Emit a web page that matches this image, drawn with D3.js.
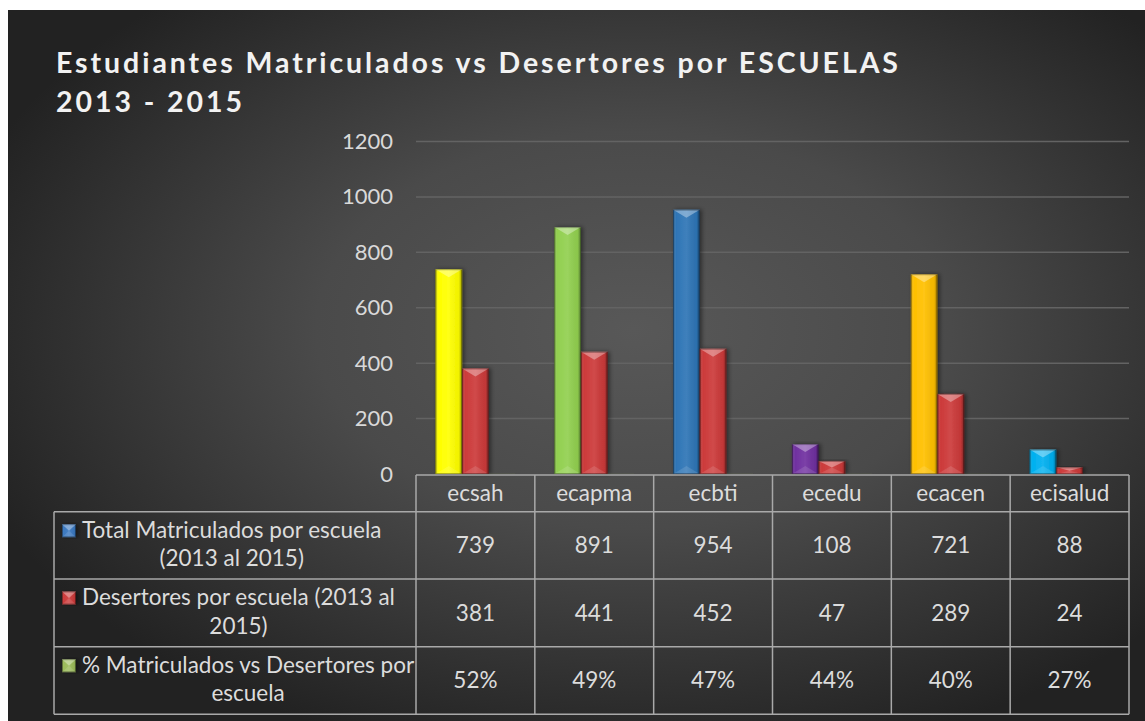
<!DOCTYPE html>
<html>
<head>
<meta charset="utf-8">
<script src="https://cdn.jsdelivr.net/npm/d3@7"></script>
<style>
  body { margin: 0; background: #ffffff; }
  svg { display: block; }
  text { font-family: Lato, "Open Sans", sans-serif; }
</style>
</head>
<body>
<svg id="chart"></svg>
<script>
// data
var escuelas = ["ecsah", "ecapma", "ecbti", "ecedu", "ecacen", "ecisalud"];
var matriculados = [739, 891, 954, 108, 721, 88];
var desertores = [381, 441, 452, 47, 289, 24];
var porcentaje = [0.52, 0.49, 0.47, 0.44, 0.40, 0.27];
var porcentajeLabels = ["52%", "49%", "47%", "44%", "40%", "27%"];
var serieLineas = [
  ["Total Matriculados por escuela", "(2013 al 2015)"],
  ["Desertores por escuela (2013 al", "2015)"],
  ["% Matriculados vs Desertores por", "escuela"]
];
var yTicks = [0, 200, 400, 600, 800, 1000, 1200];
var titulo = ["Estudiantes Matriculados vs Desertores por ESCUELAS", "2013 - 2015"];

// colours (series 1 varies by point)
var puntoColores = ["#ffff00", "#92d050", "#2e75b6", "#7030a0", "#ffc000", "#00b0f0"];
var serieColores = ["#3a78c0", "#cc3a3a", "#9bbb59"];

var W = 1145, H = 721;
var plot = {left: 416, right: 1129, top: 141.5, bottom: 474};
var table = {left: 54, rows: [511.7, 579, 646.7, 714.3], headTop: 475};

var svg = d3.select("#chart").attr("width", W).attr("height", H);
var defs = svg.append("defs");

// background gradient
var bg = defs.append("radialGradient").attr("id", "bg")
  .attr("cx", "55%").attr("cy", "45%").attr("r", "62%");
bg.append("stop").attr("offset", "0%").attr("stop-color", "#585858");
bg.append("stop").attr("offset", "45%").attr("stop-color", "#4a4a4a");
bg.append("stop").attr("offset", "100%").attr("stop-color", "#222222");

// horizontal shine for bars
var shine = defs.append("linearGradient").attr("id", "shine")
  .attr("x1", "0%").attr("x2", "100%").attr("y1", "0%").attr("y2", "0%");
shine.append("stop").attr("offset", "0%").attr("stop-color", "#000").attr("stop-opacity", 0.25);
shine.append("stop").attr("offset", "12%").attr("stop-color", "#fff").attr("stop-opacity", 0.0);
shine.append("stop").attr("offset", "50%").attr("stop-color", "#fff").attr("stop-opacity", 0.08);
shine.append("stop").attr("offset", "88%").attr("stop-color", "#000").attr("stop-opacity", 0.05);
shine.append("stop").attr("offset", "100%").attr("stop-color", "#000").attr("stop-opacity", 0.4);

var shadow = defs.append("filter").attr("id", "shadow")
  .attr("x", "-30%").attr("y", "-10%").attr("width", "160%").attr("height", "120%");
shadow.append("feDropShadow").attr("dx", 2).attr("dy", 0).attr("stdDeviation", 2)
  .attr("flood-color", "#000").attr("flood-opacity", 0.45);

svg.append("rect").attr("x", 8).attr("y", 10).attr("width", W - 8).attr("height", H - 10)
  .attr("fill", "url(#bg)");

// title
var tg = svg.append("g").attr("fill", "#f2f2f2").style("font-weight", "bold").style("font-size", "28.5px");
var t1 = tg.append("text").attr("x", 56).attr("y", 73.3).text(titulo[0]);
var natural = t1.node().getComputedTextLength();
var spacing = (842 - natural) / (titulo[0].length - 1);
t1.style("letter-spacing", spacing + "px");
tg.append("text").attr("x", 56).attr("y", 111.7).style("letter-spacing", spacing + "px").text(titulo[1]);

// scales
var x0 = d3.scaleBand().domain(escuelas).range([plot.left, plot.right]).paddingInner(0).paddingOuter(0);
var series = ["mat", "des", "pct"];
var x1 = d3.scaleBand().domain(series).range([0, x0.bandwidth()]).paddingInner(0).paddingOuter(0.73);
var y = d3.scaleLinear().domain([0, 1200]).range([plot.bottom, plot.top]);

// gridlines
svg.append("g").selectAll("line").data(yTicks.filter(function(d) { return d > 0; }))
  .enter().append("line")
  .attr("x1", plot.left).attr("x2", plot.right)
  .attr("y1", function(d) { return y(d); }).attr("y2", function(d) { return y(d); })
  .attr("stroke", "#636363").attr("stroke-width", 1.5);

// y axis
var yAxis = svg.append("g").attr("transform", "translate(" + plot.left + ",0)")
  .call(d3.axisLeft(y).tickValues(yTicks).tickFormat(d3.format("d")).tickSize(0).tickPadding(23));
yAxis.select(".domain").remove();
yAxis.selectAll("text").attr("fill", "#d9d9d9").style("font-size", "22px")
  .style("font-family", "Lato, 'Open Sans', sans-serif");

// bevelled bar
function bar(g, bx, by, bw, bh, color) {
  if (bh <= 0) return;
  if (bh < 1) {
    g.append("rect").attr("x", bx).attr("y", by).attr("width", bw).attr("height", bh)
      .attr("fill", color).attr("fill-opacity", 0.5);
    return;
  }
  var b = g.append("g").attr("filter", "url(#shadow)");
  b.append("rect").attr("x", bx).attr("y", by).attr("width", bw).attr("height", bh).attr("fill", color);
  b.append("rect").attr("x", bx).attr("y", by).attr("width", bw).attr("height", bh).attr("fill", "url(#shine)");
  var d = Math.min(8, bh / 2), xc = bx + bw / 2, yb = by + bh;
  b.append("polygon")
    .attr("points", [[bx, by], [bx + bw, by], [xc, by + d]].join(" "))
    .attr("fill", "#fff").attr("fill-opacity", 0.35);
  b.append("polygon")
    .attr("points", [[bx, yb], [bx + bw, yb], [xc, yb - d]].join(" "))
    .attr("fill", "#fff").attr("fill-opacity", 0.12);
  b.append("rect").attr("x", bx + 0.5).attr("y", by + 0.5).attr("width", bw - 1)
    .attr("height", bh - 1)
    .attr("fill", "none").attr("stroke", "#000").attr("stroke-opacity", 0.3).attr("stroke-width", 1);
}

var bars = svg.append("g");
escuelas.forEach(function(e, i) {
  var vals = [matriculados[i], desertores[i], porcentaje[i]];
  var cols = [puntoColores[i], serieColores[1], serieColores[2]];
  series.forEach(function(s, k) {
    var bx = x0(e) + x1(s);
    bar(bars, bx, y(vals[k]), x1.bandwidth(), y(0) - y(vals[k]), cols[k]);
  });
});

// data table
var lineColor = "#a9a9a9";
var tbl = svg.append("g").attr("stroke", lineColor).attr("stroke-width", 1.5).attr("fill", "none");
tbl.append("line").attr("x1", plot.left).attr("x2", plot.right).attr("y1", table.headTop).attr("y2", table.headTop);
table.rows.forEach(function(r) {
  tbl.append("line").attr("x1", table.left).attr("x2", plot.right).attr("y1", r).attr("y2", r);
});
var colEdges = escuelas.map(function(e) { return x0(e); }).concat([plot.right]);
colEdges.forEach(function(cx) {
  tbl.append("line").attr("x1", cx).attr("x2", cx).attr("y1", table.headTop).attr("y2", table.rows[3]);
});
tbl.append("line").attr("x1", table.left).attr("x2", table.left).attr("y1", table.rows[0]).attr("y2", table.rows[3]);

var txt = svg.append("g").attr("fill", "#dcdcdc").style("font-size", "22.5px").attr("text-anchor", "middle");
txt.selectAll(".cat").data(escuelas).enter().append("text")
  .attr("x", function(d) { return x0(d) + x0.bandwidth() / 2; })
  .attr("y", (table.headTop + table.rows[0]) / 2).attr("dy", "0.35em")
  .text(function(d) { return d; });

var filas = [matriculados.map(String), desertores.map(String), porcentajeLabels];
filas.forEach(function(fila, r) {
  var cy = (table.rows[r] + table.rows[r + 1]) / 2;
  txt.selectAll(".v" + r).data(fila).enter().append("text")
    .attr("x", function(d, i) { return x0(escuelas[i]) + x0.bandwidth() / 2; })
    .attr("y", cy).attr("dy", "0.35em")
    .text(function(d) { return d; });

  // row header with legend key
  var top = table.rows[r];
  var l1 = txt.append("text").attr("text-anchor", "start").attr("x", 82).attr("y", top + 26).text(serieLineas[r][0]);
  var w1 = l1.node().getComputedTextLength();
  txt.append("text").attr("x", 82 + w1 / 2).attr("y", top + 54.5).text(serieLineas[r][1]);
  var key = svg.append("g");
  bar(key, 62, top + 12.5, 14, 13, serieColores[r]);
});
</script>
</body>
</html>
